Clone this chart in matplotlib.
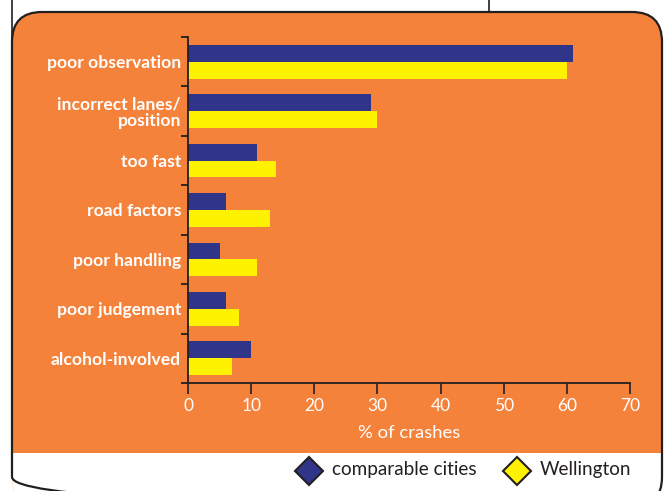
import matplotlib
matplotlib.use("Agg")
import matplotlib.pyplot as plt
from matplotlib.patches import FancyBboxPatch, Rectangle
import numpy as np

categories = ["poor observation", "incorrect lanes/\nposition", "too fast", "road factors",
              "poor handling", "poor judgement", "alcohol-involved"]
comparable = [61, 29, 11, 6, 5, 6, 10]
wellington = [60, 30, 14, 13, 11, 8, 7]
series_names = ["comparable cities", "Wellington"]
xticks = [0, 10, 20, 30, 40, 50, 60, 70]
xlabel = "% of crashes"

ORANGE = "#F5823A"
NAVY = "#303589"
YELLOW = "#FFF200"
DARK = "#231F20"
FONT = "Lato"

W, H = 665, 491
fig = plt.figure(figsize=(W / 100, H / 100), dpi=100)

# background in pixel coordinates
bg = fig.add_axes([0, 0, 1, 1], zorder=0)
bg.set_xlim(0, W)
bg.set_ylim(H, 0)
bg.axis("off")

box = FancyBboxPatch((12, 12), 650, 495, boxstyle="round,pad=0,rounding_size=30",
                     facecolor=ORANGE, edgecolor="none")
bg.add_patch(box)
white = Rectangle((0, 453), W, 80, facecolor="white", edgecolor="none")
bg.add_patch(white)
white.set_clip_path(box)
edge = FancyBboxPatch((12, 12), 650, 495, boxstyle="round,pad=0,rounding_size=30",
                      facecolor="none", edgecolor=DARK, linewidth=1.6)
bg.add_patch(edge)
bg.plot([12, 12], [0, 40], color=DARK, lw=1.2)
bg.plot([489, 489], [0, 12], color=DARK, lw=1.2)

# legend
leg_items = [(309, NAVY, series_names[0]), (517, YELLOW, series_names[1])]
for x, c, name in leg_items:
    bg.plot([x], [471], marker="D", markersize=14, markerfacecolor=c,
            markeredgecolor=DARK, markeredgewidth=1.5, linestyle="none")
    bg.text(x + 23, 470, name, family=FONT, fontsize=13.6, color=DARK,
            va="center", ha="left")

# chart axes
left, right, top, bottom = 188, 630, 37, 383
ax = fig.add_axes([left / W, (H - bottom) / H, (right - left) / W, (bottom - top) / H],
                  zorder=1)
ax.patch.set_alpha(0)

n = len(categories)
y = np.arange(n)
h = 0.34
ax.barh(y - h / 2, comparable, height=h, color=NAVY)
ax.barh(y + h / 2, wellington, height=h, color=YELLOW)

ax.set_xlim(0, 70)
ax.set_ylim(n - 0.5, -0.5)
for s in ["top", "right"]:
    ax.spines[s].set_visible(False)
for s in ["left", "bottom"]:
    ax.spines[s].set_color(DARK)
    ax.spines[s].set_linewidth(1.3)

ax.set_yticks(y)
ax.set_yticklabels(categories, family=FONT, fontweight="bold", fontsize=12.6,
                   color="white", linespacing=1.05)
ax.set_yticks(np.arange(n + 1) - 0.5, minor=True)
ax.tick_params(axis="y", which="major", length=0, pad=5)
ax.tick_params(axis="y", which="minor", length=5, width=1.3, color=DARK, direction="out")

ax.set_xticks(xticks)
ax.set_xticklabels([str(t) for t in xticks], family=FONT, fontsize=12.5, color="white")
ax.tick_params(axis="x", length=8, width=1.2, color=DARK, direction="out", pad=3)
ax.set_xlabel(xlabel, family=FONT, fontsize=13.3, color="white", labelpad=8)

fig.savefig("out.png", dpi=100)
